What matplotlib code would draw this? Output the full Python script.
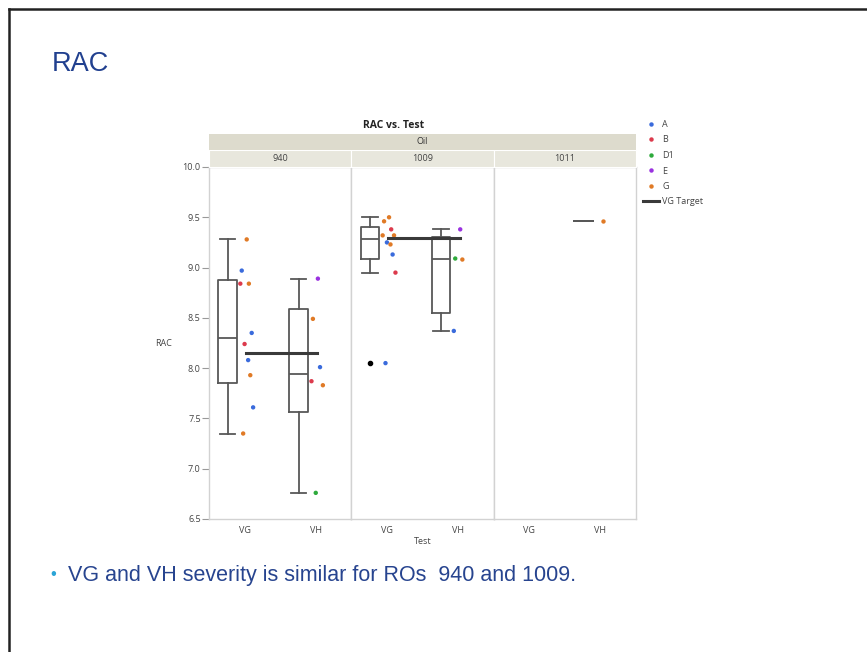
import matplotlib.pyplot as plt
import numpy as np
from matplotlib.lines import Line2D
from matplotlib.patches import Rectangle

oils = ['940', '1009', '1011']
tests = ['VG', 'VH']

# RAC results for each oil / test, and the lab behind each result
rac_940_vg = [9.28, 8.97, 8.84, 8.84, 8.35, 8.24, 8.08, 7.93, 7.61, 7.35]
lab_940_vg = ['G', 'A', 'G', 'B', 'A', 'B', 'A', 'G', 'A', 'G']
rac_940_vh = [8.89, 8.49, 8.01, 7.87, 7.83, 6.76]
lab_940_vh = ['E', 'G', 'A', 'B', 'G', 'D1']
rac_1009_vg = [9.50, 9.46, 9.38, 9.32, 9.32, 9.25, 9.23, 9.13, 8.95, 8.05]
lab_1009_vg = ['G', 'G', 'B', 'G', 'G', 'A', 'G', 'A', 'B', 'A']
rac_1009_vh = [9.38, 9.09, 9.08, 8.37]
lab_1009_vh = ['E', 'D1', 'G', 'A']
rac_1011_vg = []
lab_1011_vg = []
rac_1011_vh = [9.46]
lab_1011_vh = ['G']

target_oils = ['940', '1009']
target_rac = [8.15, 9.29]

labs = ['A', 'B', 'D1', 'E', 'G']
lab_colors = ['#3a6bdc', '#dc3a4c', '#2eaa3c', '#9a32e0', '#e07a26']

groups = {
    ('940', 'VG'): (rac_940_vg, lab_940_vg),
    ('940', 'VH'): (rac_940_vh, lab_940_vh),
    ('1009', 'VG'): (rac_1009_vg, lab_1009_vg),
    ('1009', 'VH'): (rac_1009_vh, lab_1009_vh),
    ('1011', 'VG'): (rac_1011_vg, lab_1011_vg),
    ('1011', 'VH'): (rac_1011_vh, lab_1011_vh),
}
color_of = dict(zip(labs, lab_colors))

# small horizontal spread for the points next to each box
JITTER = [0.03, -0.04, 0.06, -0.06, 0.1, 0.0, 0.05, 0.08, 0.12, -0.02]
BOX_SHIFT = -0.24


def box_stats(vals):
    v = np.sort(np.asarray(vals, dtype=float))
    q1, med, q3 = np.percentile(v, [25, 50, 75], method='weibull')
    iqr = q3 - q1
    lo, hi = q1 - 1.5 * iqr, q3 + 1.5 * iqr
    inside = v[(v >= lo) & (v <= hi)]
    return dict(med=med, q1=q1, q3=q3, whislo=inside.min(),
                whishi=inside.max(), fliers=v[(v < lo) | (v > hi)])


CHART_FONT = ['Open Sans', 'DejaVu Sans']
SLIDE_FONT = ['Liberation Sans', 'DejaVu Sans']
plt.rcParams['font.family'] = CHART_FONT

fig = plt.figure(figsize=(8.67, 6.52), dpi=100)
W, H = 867, 652

left, right, top, bottom = 209, 636, 167, 519
pw = (right - left) / 3
axes = []
for i, oil in enumerate(oils):
    ax = fig.add_axes([(left + i * pw) / W, 1 - bottom / H, pw / W, (bottom - top) / H])
    axes.append(ax)
    line_col = '#585858'
    for j, test in enumerate(tests):
        vals, who = groups[(oil, test)]
        if not vals:
            continue
        ax.bxp([box_stats(vals)], positions=[j + BOX_SHIFT], widths=0.26,
               capwidths=0.22, showfliers=True,
               boxprops=dict(color=line_col, lw=1.3),
               whiskerprops=dict(color=line_col, lw=1.3),
               capprops=dict(color=line_col, lw=1.3),
               medianprops=dict(color=line_col, lw=1.3),
               flierprops=dict(marker='o', markersize=3.0, markerfacecolor='black',
                               markeredgecolor='black'))
        xs = [j + JITTER[k % len(JITTER)] for k in range(len(vals))]
        ax.scatter(xs, vals, s=10, c=[color_of[w] for w in who], zorder=4, lw=0)
    if oil in target_oils:
        t = target_rac[target_oils.index(oil)]
        ax.plot([0.02, 1.02], [t, t], color='#3a3a3a', lw=2.2, zorder=5)

    ax.set_xlim(-0.5, 1.5)
    ax.set_ylim(6.5, 10.0)
    ax.set_xticks([0, 1])
    ax.set_xticklabels(tests, fontsize=6.5, color='#444444')
    ax.tick_params(axis='x', length=0, pad=5)
    for s in ax.spines.values():
        s.set_color('#d2d2d2')
        s.set_linewidth(1.0)
    if i == 0:
        ax.set_yticks(np.arange(6.5, 10.01, 0.5))
        ax.set_yticklabels(['%.1f' % v for v in np.arange(6.5, 10.01, 0.5)],
                           fontsize=6.5, color='#444444')
        ax.tick_params(axis='y', length=5, color='#999999', pad=1)
    else:
        ax.set_yticks([])

    # panel header strip
    x0 = (left + i * pw) / W
    fig.patches.append(Rectangle((x0, 1 - top / H), pw / W, 17 / H,
                                 transform=fig.transFigure, facecolor='#e8e7dd',
                                 edgecolor='white', lw=0.8, zorder=0))
    fig.text(x0 + pw / W / 2, 1 - 158.5 / H, oil, ha='center', va='center',
             fontsize=6.5, color='#444444')

# group strip for Oil
fig.patches.append(Rectangle((left / W, 1 - 150 / H), (right - left) / W, 16 / H,
                             transform=fig.transFigure, facecolor='#dddbcd',
                             edgecolor='none', zorder=0))
fig.text((left + right) / 2 / W, 1 - 142 / H, 'Oil', ha='center', va='center',
         fontsize=6.5, color='#333333')
fig.text(394 / W, 1 - 126 / H, 'RAC vs. Test', ha='center', va='center',
         fontsize=7.5, fontweight='bold', color='#222222')
fig.text(164 / W, 1 - 343 / H, 'RAC', ha='center', va='center',
         fontsize=6.5, color='#444444')
fig.text((left + right) / 2 / W, 1 - 542 / H, 'Test', ha='center', va='center',
         fontsize=6.5, color='#444444')

handles = [Line2D([], [], ls='none', marker='o', markersize=3.2, color=c,
                  markeredgewidth=0) for c in lab_colors]
handles.append(Line2D([], [], color='#3a3a3a', lw=2.2))
fig.legend(handles, labs + ['VG Target'], loc='upper left',
           bbox_to_anchor=(643 / W, 1 - 120 / H), frameon=False, fontsize=6.5,
           handlelength=1.8, handletextpad=0.35, labelspacing=0.72,
           borderaxespad=0, borderpad=0, labelcolor='#444444')

# slide frame, title and note
fig.add_artist(Line2D([9 / W, 1], [1 - 9 / H, 1 - 9 / H], transform=fig.transFigure,
                      color='#222222', lw=1.8))
fig.add_artist(Line2D([9 / W, 9 / W], [0, 1 - 9 / H], transform=fig.transFigure,
                      color='#222222', lw=1.8))
fig.text(52 / W, 1 - 64 / H, 'RAC', ha='left', va='center', fontsize=19.5,
         color='#21408f', family=SLIDE_FONT)
fig.text(50 / W, 1 - 574 / H, '\u2022', ha='left', va='center', fontsize=12,
         color='#2aa4d6', family=SLIDE_FONT)
fig.text(68 / W, 1 - 575 / H, 'VG and VH severity is similar for ROs  940 and 1009.',
         ha='left', va='center', fontsize=15.5, color='#27448f', family=SLIDE_FONT)

fig.savefig('out.png', dpi=100)
